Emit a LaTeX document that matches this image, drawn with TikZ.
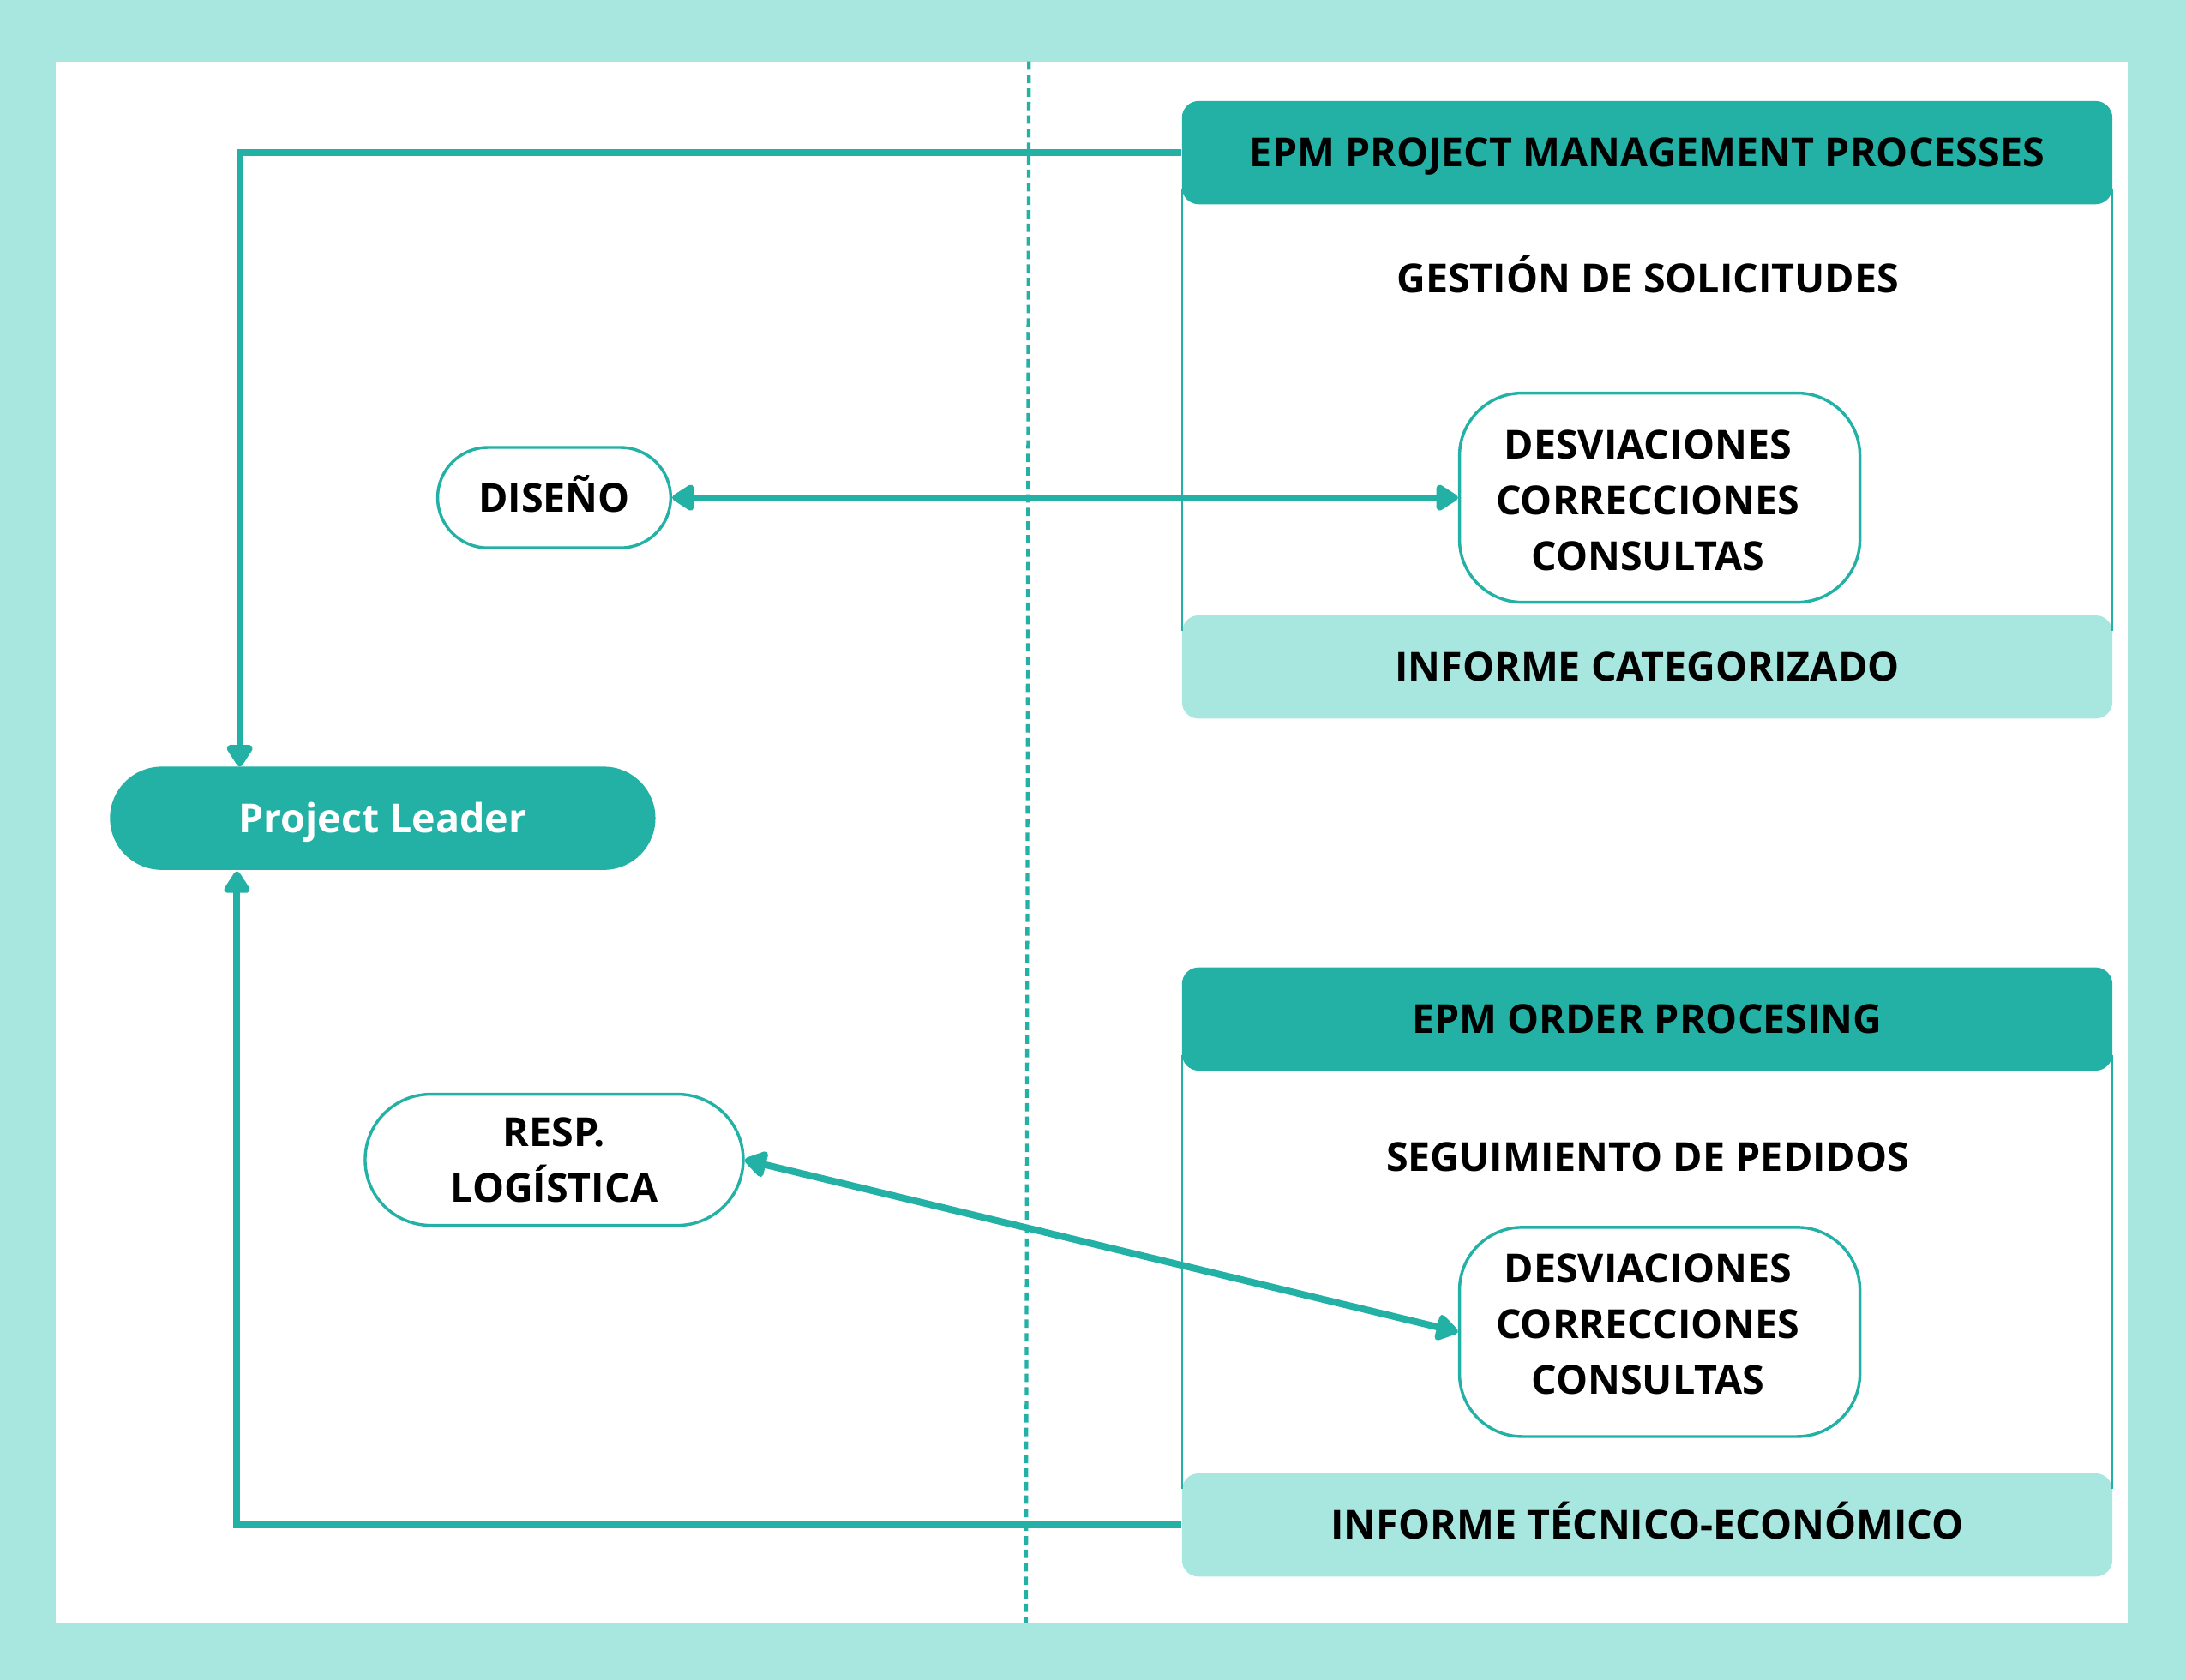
\documentclass[tikz,border=0pt]{standalone}
\usepackage{fontspec}
\setmainfont{Open Sans}
\usetikzlibrary{arrows.meta}
\usetikzlibrary{shapes.misc}

\definecolor{tealdark}{RGB}{35,177,165}
\definecolor{teallight}{RGB}{168,230,224}

\begin{document}
\begin{tikzpicture}[x=0.01cm,y=-0.01cm,
  font=\bfseries\fontsize{8.15}{11.4}\selectfont,
  >={Triangle[length=5pt,width=6pt,round]},
  link/.style={draw=tealdark,line width=1.4pt},
  frame/.style={draw=tealdark,line width=0.5pt},
  oneline/.style={text height=0.205cm,text depth=0pt},
  band/.style={rectangle,rounded corners=0.12cm,minimum width=6.67cm,
    minimum height=0.74cm,inner sep=0pt,oneline},
  header/.style={band,fill=tealdark},
  footer/.style={band,fill=teallight},
  topic/.style={inner sep=0pt,oneline},
  lines/.style={inner sep=0pt,align=center},
  issues/.style={rectangle,rounded corners=0.45cm,draw=tealdark,line width=0.6pt,
    fill=white,minimum width=2.87cm,minimum height=1.5cm,inner sep=0pt},
  role/.style={rounded rectangle,draw=tealdark,line width=0.6pt,fill=white,
    inner sep=0pt},
  leader/.style={rounded rectangle,fill=tealdark,text=white,inner sep=0pt,
    minimum width=3.91cm,minimum height=0.74cm,oneline}]

% frame of the page
\fill[teallight] (0,0) rectangle (1568,1205);
\fill[white] (40,44) rectangle (1526,1164);
\draw[tealdark,line width=0.75pt,dash pattern=on 0.06cm off 0.037cm]
  (738,44) -- (736,1164);

% upper process
\node[header] (hdrA) at (1181.5,109.5) {EPM PROJECT MANAGEMENT PROCESSES};
\node[footer] (ftrA) at (1181.5,478.5) {INFORME CATEGORIZADO};
\draw[frame] ([xshift=0.25pt,yshift=0.12cm]hdrA.south west)
  -- ([xshift=0.25pt,yshift=-0.12cm]ftrA.north west);
\draw[frame] ([xshift=-0.25pt,yshift=0.12cm]hdrA.south east)
  -- ([xshift=-0.25pt,yshift=-0.12cm]ftrA.north east);
\node[topic] (topA) at (1182,200) {GESTIÓN DE SOLICITUDES};
\node[issues] (devA) at (1190.5,357) {};
\node[lines] (devAtxt) at (1182,359) {DESVIACIONES\\CORRECCIONES\\CONSULTAS};

% lower process
\node[header] (hdrB) at (1181.5,731) {EPM ORDER PROCESING};
\node[footer] (ftrB) at (1181.5,1094) {INFORME TÉCNICO-ECONÓMICO};
\draw[frame] ([xshift=0.25pt,yshift=0.12cm]hdrB.south west)
  -- ([xshift=0.25pt,yshift=-0.12cm]ftrB.north west);
\draw[frame] ([xshift=-0.25pt,yshift=0.12cm]hdrB.south east)
  -- ([xshift=-0.25pt,yshift=-0.12cm]ftrB.north east);
\node[topic] (topB) at (1182,830) {SEGUIMIENTO DE PEDIDOS};
\node[issues] (devB) at (1190.5,955.5) {};
\node[lines] (devBtxt) at (1182,950) {DESVIACIONES\\CORRECCIONES\\CONSULTAS};

% left side
\node[role,minimum width=1.67cm,minimum height=0.72cm,oneline] (dis) at (397.5,357)
  {DISEÑO};
\node[role,minimum width=2.71cm,minimum height=0.94cm,align=center] (resp)
  at (397.5,832) {RESP.\\LOGÍSTICA};
\node[leader] (lead) at (274.5,587) {Project Leader};
\coordinate (leadtop) at (172,550);
\coordinate (leadbot) at (170,625);

% connectors
\draw[link,->] (hdrA.west) -| (leadtop);
\draw[link,->] (ftrB.west) -| (leadbot);
\draw[link,<->] (dis.east) -- (devA.west);
\draw[link,<->] (resp.east) -- (devB.west);
\end{tikzpicture}
\end{document}
